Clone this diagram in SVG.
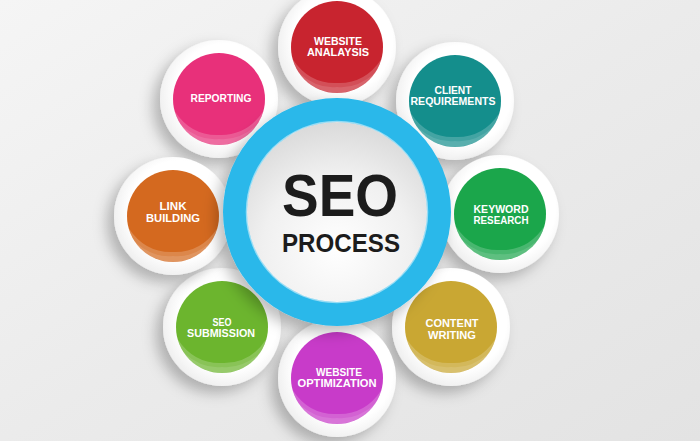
<svg xmlns="http://www.w3.org/2000/svg" xmlns:xlink="http://www.w3.org/1999/xlink" width="700" height="441" viewBox="0 0 700 441">
  <style>
    .lbl { font-family: "Liberation Sans", Arial, sans-serif; font-weight: bold; font-size: 11px; fill: #ffffff; text-anchor: middle; }
    .big { font-family: "Liberation Sans", Arial, sans-serif; font-weight: bold; fill: #1c1c1c; text-anchor: middle; }
    .ring { fill: url(#ringGrad); filter: url(#shadow); }
    .petal { fill: #ffffff; fill-opacity: 0.2; }
    .petal2 { fill: #ffffff; fill-opacity: 0.12; }
  </style>
  <defs>
    <linearGradient id="bg" x1="0" y1="0" x2="1" y2="1">
      <stop offset="0" stop-color="#f5f5f5"/>
      <stop offset="0.5" stop-color="#ebebeb"/>
      <stop offset="1" stop-color="#e3e3e3"/>
    </linearGradient>
    <radialGradient id="ringGrad" cx="0.55" cy="0.45" r="0.6">
      <stop offset="0.7" stop-color="#ffffff"/>
      <stop offset="1" stop-color="#ececec"/>
    </radialGradient>
    <radialGradient id="innerGrad" cx="0.5" cy="0.7" r="0.75">
      <stop offset="0" stop-color="#ffffff"/>
      <stop offset="0.55" stop-color="#f0f0f0"/>
      <stop offset="1" stop-color="#d6d6d6"/>
    </radialGradient>
    <filter id="shadow" x="-50%" y="-50%" width="200%" height="200%">
      <feDropShadow dx="-7" dy="7" stdDeviation="7" flood-color="#000000" flood-opacity="0.25"/>
    </filter>
    <path id="petal" d="M -44.4 12 Q -28 37 0 36 Q 28 37 44.4 12 A 46 46 0 0 1 -44.4 12 Z"/>
    <path id="petal2" d="M -38 26 Q -20 42 0 40 Q 20 42 38 26 A 46 46 0 0 1 -38 26 Z"/>
  </defs>

  <rect x="0" y="0" width="700" height="441" fill="url(#bg)"/>

  <g id="node-website-analysis" transform="translate(337,47)">
    <circle class="ring" r="59"/>
    <circle r="46" fill="#c8242f"/>
    <use xlink:href="#petal" class="petal"/>
    <use xlink:href="#petal2" class="petal2"/>
    <text class="lbl" x="1" y="-2" textLength="48" lengthAdjust="spacingAndGlyphs">WEBSITE</text>
    <text class="lbl" x="1" y="9" textLength="62" lengthAdjust="spacingAndGlyphs">ANALAYSIS</text>
  </g>

  <g id="node-reporting" transform="translate(219,99)">
    <circle class="ring" r="59"/>
    <circle r="46" fill="#e8307a"/>
    <use xlink:href="#petal" class="petal"/>
    <use xlink:href="#petal2" class="petal2"/>
    <text class="lbl" x="2" y="3" textLength="61" lengthAdjust="spacingAndGlyphs">REPORTING</text>
  </g>

  <g id="node-client-requirements" transform="translate(455,101)">
    <circle class="ring" r="59"/>
    <circle r="46" fill="#148e8c"/>
    <use xlink:href="#petal" class="petal"/>
    <use xlink:href="#petal2" class="petal2"/>
    <text class="lbl" x="-2" y="-7" textLength="37" lengthAdjust="spacingAndGlyphs">CLIENT</text>
    <text class="lbl" x="-2" y="4" textLength="85" lengthAdjust="spacingAndGlyphs">REQUIREMENTS</text>
  </g>

  <g id="node-keyword-research" transform="translate(500,214)">
    <circle class="ring" r="59"/>
    <circle r="46" fill="#1ba64b"/>
    <use xlink:href="#petal" class="petal"/>
    <use xlink:href="#petal2" class="petal2"/>
    <text class="lbl" x="1" y="-1" textLength="55" lengthAdjust="spacingAndGlyphs">KEYWORD</text>
    <text class="lbl" x="1" y="10" textLength="55" lengthAdjust="spacingAndGlyphs">RESEARCH</text>
  </g>

  <g id="node-content-writing" transform="translate(451,327)">
    <circle class="ring" r="59"/>
    <circle r="46" fill="#c9a733"/>
    <use xlink:href="#petal" class="petal"/>
    <use xlink:href="#petal2" class="petal2"/>
    <text class="lbl" x="1" y="0" textLength="53" lengthAdjust="spacingAndGlyphs">CONTENT</text>
    <text class="lbl" x="1" y="12" textLength="48" lengthAdjust="spacingAndGlyphs">WRITING</text>
  </g>

  <g id="node-website-optimization" transform="translate(337,378)">
    <circle class="ring" r="59"/>
    <circle r="46" fill="#c83bc9"/>
    <use xlink:href="#petal" class="petal"/>
    <use xlink:href="#petal2" class="petal2"/>
    <text class="lbl" x="2" y="-2" textLength="46" lengthAdjust="spacingAndGlyphs">WEBSITE</text>
    <text class="lbl" x="0" y="9" textLength="79" lengthAdjust="spacingAndGlyphs">OPTIMIZATION</text>
  </g>

  <g id="node-seo-submission" transform="translate(222,327)">
    <circle class="ring" r="59"/>
    <circle r="46" fill="#6cb52e"/>
    <use xlink:href="#petal" class="petal"/>
    <use xlink:href="#petal2" class="petal2"/>
    <text class="lbl" x="0" y="-1" textLength="19" lengthAdjust="spacingAndGlyphs">SEO</text>
    <text class="lbl" x="-1" y="10" textLength="68" lengthAdjust="spacingAndGlyphs">SUBMISSION</text>
  </g>

  <g id="node-link-building" transform="translate(173,216)">
    <circle class="ring" r="59"/>
    <circle r="46" fill="#d4691f"/>
    <use xlink:href="#petal" class="petal"/>
    <use xlink:href="#petal2" class="petal2"/>
    <text class="lbl" x="0" y="-6" textLength="27" lengthAdjust="spacingAndGlyphs">LINK</text>
    <text class="lbl" x="0" y="6" textLength="54" lengthAdjust="spacingAndGlyphs">BUILDING</text>
  </g>

  <g id="connectors"></g>

  <g id="node-seo-process">
    <circle cx="337" cy="212" r="114" fill="#29b8ea" filter="url(#shadow)"/>
    <circle cx="337" cy="212" r="90" fill="url(#innerGrad)"/>
    <circle cx="337" cy="212" r="90.5" fill="none" stroke="#ffffff" stroke-opacity="0.5" stroke-width="1.5"/>
    <text class="big" x="340" y="216" font-size="60" textLength="116" lengthAdjust="spacingAndGlyphs">SEO</text>
    <text class="big" x="341" y="252" font-size="25" textLength="118" lengthAdjust="spacingAndGlyphs">PROCESS</text>
  </g>
</svg>
